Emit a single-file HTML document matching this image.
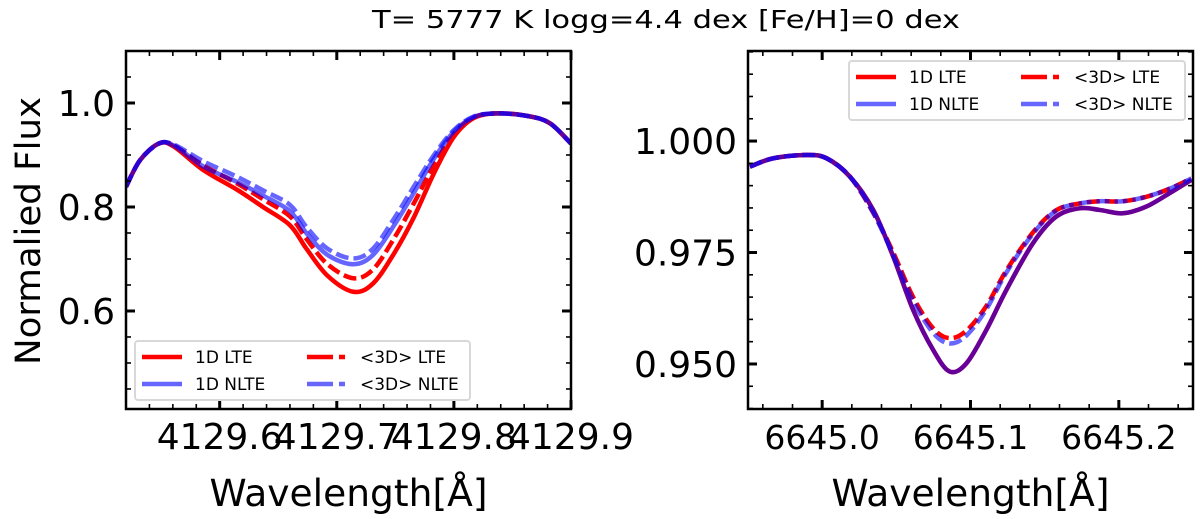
<!DOCTYPE html>
<html><head><meta charset="utf-8"><style>
html,body{margin:0;padding:0;background:#fff;}
svg{display:block;font-family:"DejaVu Sans","Liberation Sans",sans-serif;}
</style></head><body>
<svg id="chart" width="1200" height="519" viewBox="0 0 1200 519">
<text x="666" y="28" font-size="25" text-anchor="middle" textLength="588" lengthAdjust="spacingAndGlyphs">T= 5777 K  logg=4.4 dex [Fe/H]=0 dex</text>
</svg>
<script>
// ---- Left panel data ----
const leftX = [4129.52,4129.532,4129.548,4129.561,4129.586,4129.615,4129.637,4129.660,4129.674,4129.692,4129.714,4129.731,4129.749,4129.766,4129.783,4129.800,4129.817,4129.837,4129.863,4129.882,4129.90];
const left1DLTE = [.839,.890,.922,.916,.871,.833,.800,.765,.720,.668,.637,.653,.711,.781,.865,.935,.971,.980,.975,.961,.922];
const left3DLTE = [.839,.890,.922,.918,.880,.845,.815,.782,.739,.690,.663,.680,.740,.808,.880,.940,.972,.980,.975,.961,.922];
const left1DNLTE = [.839,.890,.922,.918,.878,.848,.822,.792,.750,.708,.690,.708,.765,.828,.893,.945,.973,.980,.975,.961,.922];
const left3DNLTE = [.839,.890,.922,.920,.888,.858,.832,.804,.762,.720,.701,.720,.778,.840,.900,.948,.974,.980,.975,.961,.922];
const leftXTicks = [4129.6,4129.7,4129.8,4129.9];
const leftXTickLabels = ["4129.6","4129.7","4129.8","4129.9"];
const leftYTicks = [0.6,0.8,1.0];
const leftYTickLabels = ["0.6","0.8","1.0"];
// ---- Right panel data ----
const rightX = [6644.9513,6644.967,6644.9895,6645.003,6645.0187,6645.0344,6645.0479,6645.0613,6645.0748,6645.086,6645.0973,6645.1107,6645.1242,6645.1421,6645.1578,6645.1736,6645.187,6645.2027,6645.2185,6645.2342,6645.2488];
const right1DLTE = [.99426,.99613,.99688,.99613,.99202,.98455,.97409,.96213,.95316,.9483,.95017,.95764,.96661,.97708,.98306,.98492,.98455,.9838,.9853,.9883,.99128];
const right1DNLTE = [.99426,.99613,.99688,.99613,.99202,.98455,.97409,.96213,.95316,.9483,.95017,.95764,.96661,.97708,.98306,.98492,.98455,.9838,.9853,.9883,.99128];
const right3DLTE = [.99426,.99613,.99688,.99613,.99202,.98400,.97500,.96500,.95800,.95580,.95750,.96300,.97100,.97950,.98450,.98600,.98650,.98650,.98750,.98930,.99160];
const right3DNLTE = [.99426,.99613,.99688,.99613,.99202,.98390,.97450,.96420,.95700,.95460,.95640,.96230,.97050,.97920,.98440,.98600,.98650,.98650,.98750,.98930,.99160];
const rightXTicks = [6645.0,6645.1,6645.2];
const rightXTickLabels = ["6645.0","6645.1","6645.2"];
const rightYTicks = [0.950,0.975,1.000];
const rightYTickLabels = ["0.950","0.975","1.000"];
const legendLabels = ["1D LTE","1D NLTE","<3D> LTE","<3D> NLTE"];

const NS="http://www.w3.org/2000/svg";
const svg=document.getElementById('chart');
function mk(tag,attrs,parent){const e=document.createElementNS(NS,tag);for(const k in attrs)e.setAttribute(k,attrs[k]);(parent||svg).appendChild(e);return e;}

function panel(cfg){
  const g=mk('g',{});
  
  
  const L=cfg.box[0],T=cfg.box[1],R=cfg.box[2],B=cfg.box[3];
  const sx=v=>L+(v-cfg.xr[0])/(cfg.xr[1]-cfg.xr[0])*(R-L);
  const sy=v=>B-(v-cfg.yr[0])/(cfg.yr[1]-cfg.yr[0])*(B-T);
  const clipId=cfg.name+'-clip';
  const cp=mk('clipPath',{id:clipId},g);mk('rect',{x:L,y:T,width:R-L,height:B-T},cp);
  const series=[
    {y:cfg.s1,color:'#ff0000',op:1,dash:null,n:'line-1d-lte'},
    {y:cfg.s3,color:'#ff0000',op:1,dash:'13,5',n:'line-3d-lte'},
    {y:cfg.s2,color:'#0000ff',op:0.6,dash:null,n:'line-1d-nlte'},
    {y:cfg.s4,color:'#0000ff',op:0.6,dash:'13,5',n:'line-3d-nlte'}];
  const sg=mk('g',{'clip-path':'url(#'+clipId+')'},g);
  series.forEach(s=>{
    const pts=cfg.x.map((xv,i)=>[sx(xv),sy(s.y[i])]);
    let d='M'+pts[0][0]+','+pts[0][1];
    for(let i=0;i<pts.length-1;i++){
      const p0=pts[Math.max(0,i-1)],p1=pts[i],p2=pts[i+1],p3=pts[Math.min(pts.length-1,i+2)];
      const c1x=p1[0]+(p2[0]-p0[0])/6,c1y=p1[1]+(p2[1]-p0[1])/6;
      const c2x=p2[0]-(p3[0]-p1[0])/6,c2y=p2[1]-(p3[1]-p1[1])/6;
      d+=' C'+c1x+','+c1y+' '+c2x+','+c2y+' '+p2[0]+','+p2[1];
    }
    const p=mk('path',{d:d,fill:'none',stroke:s.color,'stroke-width':4.5,'stroke-opacity':s.op,'stroke-linejoin':'round'},sg);
    if(s.dash)p.setAttribute('stroke-dasharray',s.dash);
    
    
  });
  const tg=mk('g',{stroke:'#000'},g);
  const xmin=[];for(let v=Math.ceil(cfg.xr[0]/cfg.xminor-1e-6)*cfg.xminor;v<=cfg.xr[1]+1e-9;v+=cfg.xminor)xmin.push(v);
  xmin.forEach(v=>{const x=sx(v);mk('line',{x1:x,x2:x,y1:B,y2:B-5,'stroke-width':1.6},tg);mk('line',{x1:x,x2:x,y1:T,y2:T+5,'stroke-width':1.6},tg);});
  const ymin=[];for(let v=Math.ceil(cfg.yr[0]/cfg.yminor-1e-6)*cfg.yminor;v<=cfg.yr[1]+1e-9;v+=cfg.yminor)ymin.push(v);
  ymin.forEach(v=>{const y=sy(v);mk('line',{x1:L,x2:L+5,y1:y,y2:y,'stroke-width':1.6},tg);mk('line',{x1:R,x2:R-5,y1:y,y2:y,'stroke-width':1.6},tg);});
  cfg.xt.forEach((v,i)=>{const x=sx(v);
    mk('line',{x1:x,x2:x,y1:B,y2:B-9,'stroke-width':3},tg);mk('line',{x1:x,x2:x,y1:T,y2:T+9,'stroke-width':3},tg);
    const t=mk('text',{x:x,y:449,'font-size':cfg.xfs,'text-anchor':'middle',fill:'#000'},g);t.textContent=cfg.xtl[i];
    });
  cfg.yt.forEach((v,i)=>{const y=sy(v);
    mk('line',{x1:L,x2:L+9,y1:y,y2:y,'stroke-width':3},tg);mk('line',{x1:R,x2:R-9,y1:y,y2:y,'stroke-width':3},tg);
    const t=mk('text',{x:L-11,y:y+13,'font-size':36,'text-anchor':'end',fill:'#000'},g);t.textContent=cfg.ytl[i];
    });
  mk('rect',{x:L,y:T,width:R-L,height:B-T,fill:'none',stroke:'#000','stroke-width':2.5},g);
  const xt=mk('text',{x:(L+R)/2,y:506,'font-size':37,'text-anchor':'middle',fill:'#000',textLength:278,lengthAdjust:'spacingAndGlyphs'},g);
  xt.textContent='Wavelength[Å]';
  
  const lg=mk('g',{},g);
  
  const [lx,ly,lw,lh]=cfg.leg;
  mk('rect',{x:lx,y:ly,width:lw,height:lh,rx:3,fill:'#fff','fill-opacity':0.85,stroke:'#d8d8d8','stroke-width':2},lg);
  const entries=[[0,0,'#ff0000',1,null],[0,1,'#0000ff',0.6,null],[1,0,'#ff0000',1,'26,6,6,6'],[1,1,'#0000ff',0.6,'26,6,6,6']];
  entries.forEach((e,i)=>{
    const ex=lx+7+e[0]*165, ey=ly+16+e[1]*27;
    const eg=mk('g',{},lg);
    
    const ln=mk('line',{x1:ex,x2:ex+40,y1:ey,y2:ey,stroke:e[2],'stroke-opacity':e[3],'stroke-width':4.5},eg);
    if(e[4])ln.setAttribute('stroke-dasharray',e[4]);
    const t=mk('text',{x:ex+53,y:ey+6,'font-size':17,fill:'#000'},eg);t.textContent=legendLabels[i];
  });
}
panel({name:'left-panel',box:[126,51,571,409],xr:[4129.52,4129.90],yr:[0.4115,1.1],x:leftX,s1:left1DLTE,s2:left1DNLTE,s3:left3DLTE,s4:left3DNLTE,
  xt:leftXTicks,xtl:leftXTickLabels,yt:leftYTicks,ytl:leftYTickLabels,xminor:0.02,yminor:0.05,leg:[135,341,335,59],xfs:36});
panel({name:'right-panel',box:[748,51,1193,409],xr:[6644.95,6645.25],yr:[0.9399,1.0202],x:rightX,s1:right1DLTE,s2:right1DNLTE,s3:right3DLTE,s4:right3DNLTE,
  xt:rightXTicks,xtl:rightXTickLabels,yt:rightYTicks,ytl:rightYTickLabels,xminor:0.02,yminor:0.005,leg:[849,61,336,59],xfs:33});
const yl=mk('text',{x:0,y:0,'font-size':35,'text-anchor':'middle',fill:'#000',textLength:268,lengthAdjust:'spacingAndGlyphs',transform:'translate(40,231) rotate(-90)'});
yl.textContent='Normalied Flux';


</script>
</body></html>
